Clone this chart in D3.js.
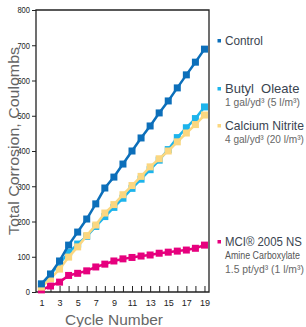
<!DOCTYPE html>
<html>
<head>
<meta charset="utf-8">
<script src="https://cdn.jsdelivr.net/npm/d3@7"></script>
<style>
  body { margin: 0; background: #fff; }
  svg { display: block; }
</style>
</head>
<body>
<div id="chart"></div>
<script>
// values
const cycles = d3.range(1, 20);
const control = [23, 51, 88, 133, 170, 207, 250, 295, 326, 363, 400, 437, 471, 508, 542, 579, 616, 652, 689];
const butylOleate = [22, 50, 80, 112, 136, 158, 186, 214, 240, 266, 294, 320, 347, 374, 404, 438, 466, 492, 525];
const calciumNitrite = [14, 38, 65, 99, 128, 160, 190, 224, 248, 276, 302, 328, 355, 378, 400, 426, 451, 475, 502];
const mci = [6, 17, 28, 47, 53, 60, 71, 79, 88, 94, 98, 102, 105, 110, 113, 116, 119, 124, 133];
const yTicks = [0, 100, 200, 300, 400, 500, 600, 700, 800];
const xLabels = [1, 3, 5, 7, 9, 11, 13, 15, 17, 19];

const width = 306, height = 327;
const plotLeft = 36, plotRight = 209, plotTop = 10, plotBottom = 292;

const sans = "'Liberation Sans', Arial, sans-serif";

const svg = d3.select("#chart").append("svg")
  .attr("width", width)
  .attr("height", height);

// squeeze a text horizontally so it looks like the condensed face of the original
function squeeze(sel, w, x0, y0) {
  const nat = sel.node().getComputedTextLength();
  const k = Math.min(1, w / nat);
  sel.attr("transform", `translate(${x0},${y0}) scale(${k},1)`);
}

const x = d3.scaleLinear().domain([0.4, 19.5]).range([plotLeft, plotRight]);
const y = d3.scaleLinear().domain([0, 800]).range([plotBottom, plotTop]);

// frame
svg.append("path")
  .attr("d", `M${plotLeft},${plotBottom}V${plotTop}H${plotRight}V${plotBottom}H${plotLeft}`)
  .attr("fill", "none")
  .attr("stroke", "#222")
  .attr("stroke-width", 1.3);

// y axis
const yAxis = svg.append("g")
  .attr("transform", `translate(${plotLeft},0)`)
  .call(d3.axisLeft(y).tickValues(yTicks).tickSize(4).tickPadding(2));
yAxis.select(".domain").remove();
yAxis.selectAll("line").attr("stroke", "#222").attr("stroke-width", 1);
yAxis.selectAll("text")
  .attr("font-family", sans)
  .attr("font-size", 9)
  .attr("fill", "#222")
  .attr("textLength", d => String(d).length * 4.2)
  .attr("lengthAdjust", "spacingAndGlyphs");

// x axis: a tick every cycle, pointing inward, labels on odd cycles
const xAxis = svg.append("g")
  .attr("transform", `translate(0,${plotBottom})`)
  .call(d3.axisBottom(x).tickValues(cycles).tickSize(-6).tickPadding(8)
    .tickFormat(d => xLabels.includes(d) ? d : ""));
xAxis.select(".domain").remove();
xAxis.selectAll("line").attr("stroke", "#222").attr("stroke-width", 1);
xAxis.selectAll("text")
  .attr("font-family", sans)
  .attr("font-size", 9)
  .attr("fill", "#222");

// axis titles
svg.append("text")
  .attr("transform", `translate(19,141) rotate(-90)`)
  .attr("text-anchor", "middle")
  .attr("font-family", sans)
  .attr("font-size", 14)
  .attr("fill", "#666")
  .attr("textLength", 188)
  .attr("lengthAdjust", "spacingAndGlyphs")
  .text("Total Corrosion, Coulombs");

svg.append("text")
  .attr("x", 114)
  .attr("y", 325)
  .attr("text-anchor", "middle")
  .attr("font-family", sans)
  .attr("font-size", 15)
  .attr("fill", "#666")
  .attr("textLength", 98)
  .attr("lengthAdjust", "spacingAndGlyphs")
  .text("Cycle Number");

// series, drawn back to front
const series = [
  { name: "mci", values: mci, color: "#e6007e" },
  { name: "butyl", values: butylOleate, color: "#1db4ec" },
  { name: "calcium", values: calciumNitrite, color: "#fbd780" },
  { name: "control", values: control, color: "#0c6fba" }
];

const line = d3.line()
  .x((d, i) => x(cycles[i]))
  .y(d => y(d));

const ms = 7;
series.forEach(s => {
  const g = svg.append("g");
  g.append("path")
    .attr("d", line(s.values))
    .attr("fill", "none")
    .attr("stroke", s.color)
    .attr("stroke-width", 2.5);
  g.selectAll("rect")
    .data(s.values)
    .join("rect")
    .attr("x", (d, i) => x(cycles[i]) - ms / 2)
    .attr("y", d => y(d) - ms / 2)
    .attr("width", ms)
    .attr("height", ms)
    .attr("fill", s.color);
});

// legend
const legend = [
  { color: "#0c6fba", y: 45, title: ["Control", 38], sub: [] },
  { color: "#1db4ec", y: 93, title: ["Butyl  Oleate", 75], sub: [["1 gal/yd\u00b3 (5 l/m\u00b3)", 75]] },
  { color: "#fbd780", y: 130, title: ["Calcium Nitrite", 79], sub: [["4 gal/yd\u00b3 (20 l/m\u00b3)", 79]] },
  { color: "#e6007e", y: 246, title: ["MCI\u00ae 2005 NS", 77],
    sub: [["Amine Carboxylate", 75], ["1.5 pt/yd\u00b3 (1 l/m\u00b3)", 79]] }
];

legend.forEach(l => {
  svg.append("rect")
    .attr("x", 217.5)
    .attr("y", l.y - 6)
    .attr("width", 3.5)
    .attr("height", 3.5)
    .attr("fill", l.color);
  const t = svg.append("text")
    .attr("font-family", sans)
    .attr("font-size", 13)
    .attr("fill", "#3a4450")
    .style("white-space", "pre")
    .text(l.title[0]);
  squeeze(t, l.title[1], 225, l.y);
  l.sub.forEach((s, i) => {
    const big = i === 0 && l.sub.length > 1;
    const st = svg.append("text")
      .attr("font-family", sans)
      .attr("font-size", big ? 11.5 : 10.5)
      .attr("fill", big ? "#555" : "#666")
      .text(s[0]);
    squeeze(st, s[1], 225, l.y + 13 + i * 14);
  });
});
</script>
</body>
</html>
